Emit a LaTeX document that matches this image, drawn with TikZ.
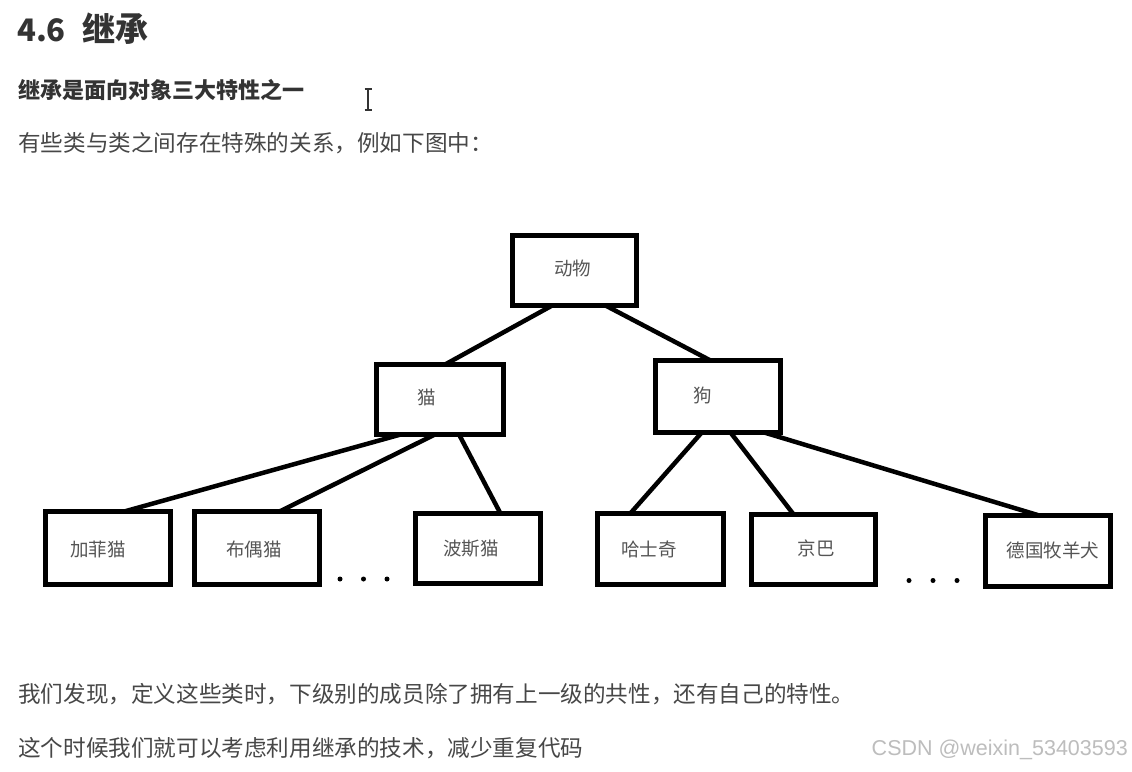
\documentclass[tikz,border=0pt]{standalone}
\usepackage{fontspec}
\setmainfont{Liberation Sans}
\newfontfamily\cjk{Noto Sans CJK SC}
\newfontfamily\wmfont{Liberation Sans}
\usetikzlibrary{calc}
\definecolor{txt}{HTML}{333333}
\definecolor{lbl}{HTML}{555555}
\definecolor{wmc}{HTML}{BDBDBD}
\tikzset{
  box/.style={draw=black, line width=5pt, inner sep=0pt, outer sep=0pt, fill=white},
  lbltext/.style={font=\cjk\fontsize{18.5pt}{22pt}\selectfont, text=lbl, inner sep=0pt},
  conn/.style={line width=4.5pt, line cap=butt},
  body/.style={font=\cjk\fontsize{22.6pt}{26pt}\selectfont, text=txt, anchor=west, inner sep=0pt},
  dotmark/.style={fill=black, inner sep=0pt, minimum size=5pt, circle},
}
\begin{document}
\begin{tikzpicture}[x=1pt,y=-1pt]
\fill[white] (0,0) rectangle (1132,771);
\useasboundingbox (0,0) rectangle (1132,771);

% headings and text
\node[body, font=\cjk\bfseries\fontsize{33pt}{38pt}\selectfont] (title) at (17,29) {{\fontsize{31pt}{36pt}\selectfont 4.6}\hspace{17pt}继承};
\node[body, font=\cjk\bfseries\fontsize{22pt}{26pt}\selectfont] (sub) at (18,90) {继承是面向对象三大特性之一};
\node[body, text=txt!90] (intro) at (18,143) {有些类与类之间存在特殊的关系，例如下图中：};
\node[body, text=txt!90] (p1) at (18,694) {我们发现，定义这些类时，下级别的成员除了拥有上一级的共性，还有自己的特性。};
\node[body, text=txt!90] (p2) at (18,748) {这个时候我们就可以考虑利用继承的技术，减少重复代码};
\node[anchor=east, inner sep=0pt, text=wmc, font=\wmfont\fontsize{21.5pt}{24pt}\selectfont] (wm) at (1128,750) {CSDN @weixin\_53403593};

% text cursor
\draw[txt, line width=1.3pt] (364.5,89) -- (371.5,89) (368,89) -- (368,110) (364.5,110) -- (371.5,110);

% boxes
\node[box, minimum width=124pt, minimum height=70pt] (a) at (574.5,270.5) {};
\node[box, minimum width=127pt, minimum height=70pt] (cat) at (440,399.5) {};
\node[box, minimum width=125pt, minimum height=72pt] (dog) at (718,396.5) {};
\node[box, minimum width=125pt, minimum height=73pt] (k1) at (108,548) {};
\node[box, minimum width=125pt, minimum height=73pt] (k2) at (257,548) {};
\node[box, minimum width=125pt, minimum height=70pt] (k3) at (478,548.5) {};
\node[box, minimum width=126pt, minimum height=71pt] (d1) at (660.5,549) {};
\node[box, minimum width=124pt, minimum height=70pt] (d2) at (813.5,549.5) {};
\node[box, minimum width=125pt, minimum height=71pt] (d3) at (1048,551) {};

% labels
\node[lbltext] (ta) at (572.5,268) {动物};
\node[lbltext] (tcat) at (427,397) {猫};
\node[lbltext] (tdog) at (703,395) {狗};
\node[lbltext] (tk1) at (98,549) {加菲猫};
\node[lbltext] (tk2) at (254,549) {布偶猫};
\node[lbltext] (tk3) at (471,549) {波斯猫};
\node[lbltext] (td1) at (649,549) {哈士奇};
\node[lbltext] (td2) at (816,548) {京巴};
\node[lbltext] (td3) at (1053,550) {德国牧羊犬};

% connectors
\draw[conn] ($(a.south west)!0.32!(a.south east)$) -- ($(cat.north west)!0.54!(cat.north east)$);
\draw[conn] ($(a.south west)!0.75!(a.south east)$) -- ($(dog.north west)!0.44!(dog.north east)$);
\draw[conn] ($(cat.south west)!0.19!(cat.south east)$) -- ($(k1.north west)!0.63!(k1.north east)$);
\draw[conn] ($(cat.south west)!0.46!(cat.south east)$) -- ($(k2.north west)!0.68!(k2.north east)$);
\draw[conn] ($(cat.south west)!0.65!(cat.south east)$) -- ($(k3.north west)!0.68!(k3.north east)$);
\draw[conn] ($(dog.south west)!0.37!(dog.south east)$) -- ($(d1.north west)!0.26!(d1.north east)$);
\draw[conn] ($(dog.south west)!0.60!(dog.south east)$) -- ($(d2.north west)!0.34!(d2.north east)$);
\draw[conn] ($(dog.south west)!0.87!(dog.south east)$) -- ($(d3.north west)!0.43!(d3.north east)$);

% ellipsis dots
\node[dotmark] (l1) at (340,579) {};
\node[dotmark] (l2) at (363.5,579) {};
\node[dotmark] (l3) at (387,579) {};
\node[dotmark] (r1) at (909,580.5) {};
\node[dotmark] (r2) at (933,580.5) {};
\node[dotmark] (r3) at (957,580.5) {};
\end{tikzpicture}
\end{document}
